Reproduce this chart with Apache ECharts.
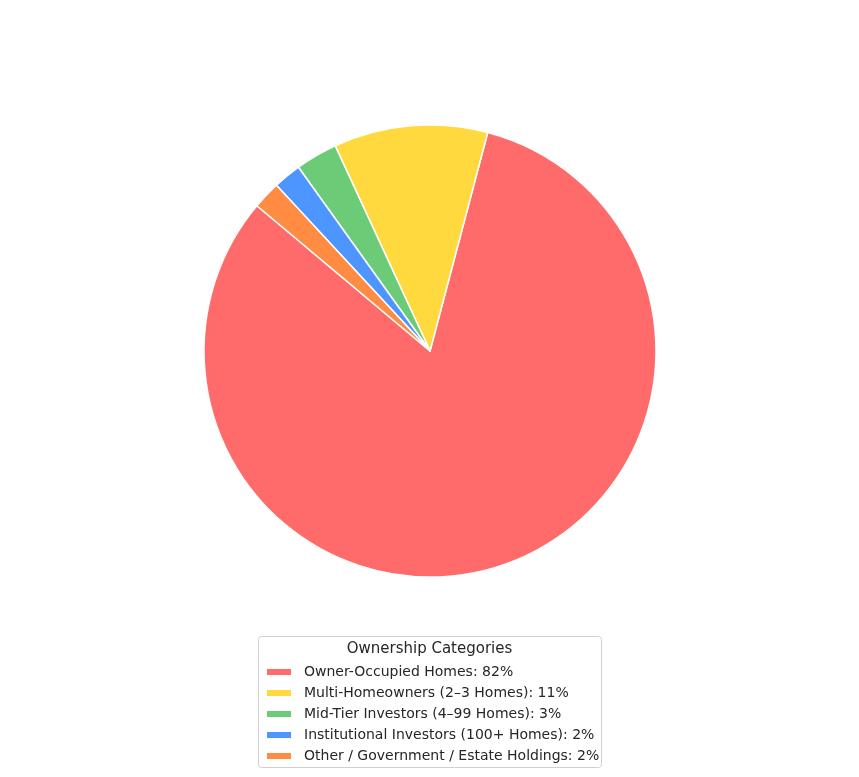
<!DOCTYPE html>
<html><head><meta charset="utf-8">
<script src="https://cdn.jsdelivr.net/npm/echarts@6/dist/echarts.min.js"></script>
<style>html,body{margin:0;padding:0;background:#fff}#c{width:859px;height:777px}</style>
</head><body><div id="c"></div>
<script>
const categories = ["Owner-Occupied Homes","Multi-Homeowners (2\u20133 Homes)","Mid-Tier Investors (4\u201399 Homes)","Institutional Investors (100+ Homes)","Other / Government / Estate Holdings"];
const values = [82, 11, 3, 2, 2];
const colors = ["#ff6b6b","#ffd93d","#6bcb77","#4d96ff","#ff8c42"];
const legendTitle = "Ownership Categories";

const chart = echarts.init(document.getElementById('c'), null, {renderer:'canvas'});
const data = categories.map((c,i)=>({name:c, value:values[i], itemStyle:{color:colors[i]}}));
chart.setOption({
  animation:false,
  color: colors,
  graphic:[
    {type:'rect', left:258, top:636, shape:{width:343, height:131, r:3}, style:{fill:'#fff', stroke:'#d0d0d0', lineWidth:1}, z:0},
    {type:'text', left:'center', top:642, style:{text:legendTitle, font:'15px "DejaVu Sans"', fill:'#262626'}, z:10}
  ],
  legend:{
    orient:'vertical', left:265, top:665,
    itemWidth:26, itemHeight:8, itemGap:7,
    icon:'rect',
    padding:0,
    textStyle:{fontFamily:'DejaVu Sans', fontSize:14, color:'#262626', lineHeight:14, padding:[0,0,0,7]},
    formatter: name => name + ': ' + values[categories.indexOf(name)] + '%',
    data: categories,
    z:10
  },
  series:[{
    type:'pie',
    center:[430,351], radius:[0,226],
    startAngle:140, clockwise:false,
    label:{show:false}, labelLine:{show:false},
    emphasis:{disabled:true},
    itemStyle:{borderColor:'#fff', borderWidth:1.5},
    data:data
  }]
});
</script></body></html>
